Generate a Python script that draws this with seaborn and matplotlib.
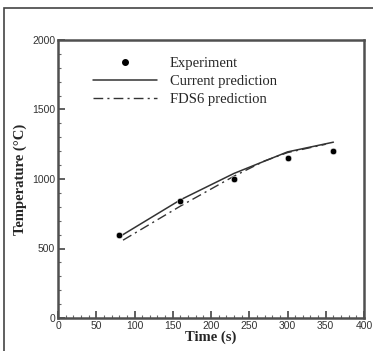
import seaborn as sns
import pandas as pd
import numpy as np
import matplotlib.pyplot as plt
from matplotlib.lines import Line2D
from matplotlib.patches import Rectangle

# data
exp_time = [80, 160, 230, 300, 360]
exp_temp = [600, 840, 1000, 1150, 1200]

cur_time = [82, 160, 230, 300, 360]
cur_temp = [590, 850, 1040, 1195, 1265]

fds_time = [85, 160, 230, 270, 300, 350]
fds_temp = [560, 805, 1020, 1130, 1190, 1250]

sns.set_theme(style='ticks')

exp = pd.DataFrame({'t': exp_time, 'T': exp_temp})
cur = pd.DataFrame({'t': cur_time, 'T': cur_temp})
fds = pd.DataFrame({'t': fds_time, 'T': fds_temp})

fig = plt.figure(figsize=(3.73, 3.51), dpi=100)
ax = fig.add_axes([58/373, 1 - 318/351, (364-58)/373, (318-40)/351])

# outer frame
fig.patches.append(Rectangle((4/373, -0.1), 1.2, 1 - 8/351 + 0.1, transform=fig.transFigure,
                             fill=False, edgecolor='#444444', linewidth=1.2))

dashdot = (0, (7, 3, 1.5, 3))
sns.lineplot(data=cur, x='t', y='T', ax=ax, color='#333333', linewidth=1.1)
sns.lineplot(data=fds, x='t', y='T', ax=ax, color='#333333', linewidth=1.0, linestyle=dashdot)
sns.scatterplot(data=exp, x='t', y='T', ax=ax, color='black', s=22, zorder=5)

ax.set_xlim(0, 400)
ax.set_ylim(0, 2000)
ax.set_xticks(np.arange(0, 401, 50))
ax.set_yticks(np.arange(0, 2001, 500))
ax.set_xticks(np.arange(0, 401, 10), minor=True)
ax.set_yticks(np.arange(0, 2001, 100), minor=True)
ax.tick_params(which='major', direction='in', length=5, width=1.2, color='#444444',
               labelsize=7.5, labelcolor='#333333', pad=2, top=False, right=False)
ax.tick_params(which='minor', direction='in', length=2.5, width=0.8, color='#666666',
               top=False, right=False)
for lab in ax.get_xticklabels() + ax.get_yticklabels():
    lab.set_family('Liberation Sans')
for sp in ax.spines.values():
    sp.set_linewidth(1.8)
    sp.set_color('#505050')

ax.set_xlabel('Time (s)', fontsize=10.5, fontweight='bold', family='Liberation Serif', labelpad=0)
ax.set_ylabel('Temperature (°C)', fontsize=10.5, fontweight='bold', family='Liberation Serif', labelpad=4)

handles = [
    Line2D([], [], marker='o', color='black', linestyle='none', markersize=4),
    Line2D([], [], color='#333333', linewidth=1.1),
    Line2D([], [], color='#333333', linewidth=1.0, linestyle=dashdot),
]
ax.legend(handles, ['Experiment', 'Current prediction', 'FDS6 prediction'],
          loc='upper left', bbox_to_anchor=(0.07, 0.987), frameon=False,
          handlelength=4.4, handletextpad=0.9, labelspacing=0.32,
          prop={'family': 'Liberation Serif', 'size': 10.5})

fig.savefig('out.png', dpi=100)
